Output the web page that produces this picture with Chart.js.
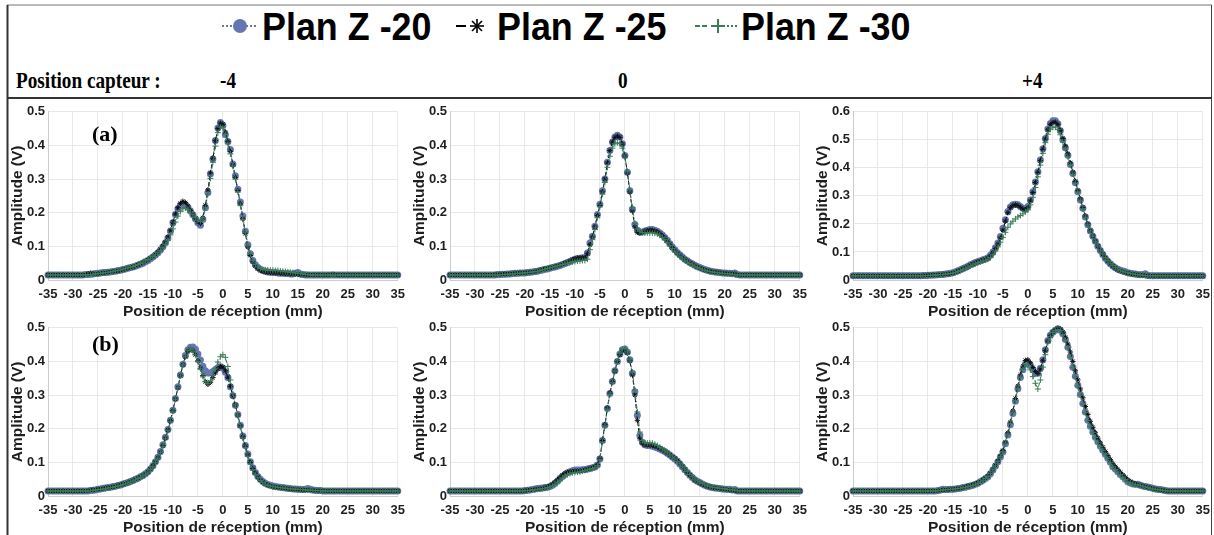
<!DOCTYPE html>
<html><head><meta charset="utf-8">
<script src="https://cdn.jsdelivr.net/npm/chart.js@4.4.0/dist/chart.umd.min.js"></script>
<style>
html,body{margin:0;padding:0;background:#fff;overflow:hidden;width:1214px;height:535px;}
#wrap{position:relative;width:1214px;height:535px;overflow:hidden;}
.leg{position:absolute;top:7px;font:bold 39px "Liberation Sans",Arial,sans-serif;line-height:39px;white-space:nowrap;transform:scaleX(0.92);transform-origin:0 0;color:#000;}
.hdr{position:absolute;top:68px;font:bold 24px "Liberation Serif","Times New Roman",serif;line-height:24px;white-space:nowrap;transform:scaleX(0.8);transform-origin:0 0;color:#000;}
.lab{position:absolute;font:bold 22px "Liberation Serif","Times New Roman",serif;line-height:22px;white-space:nowrap;color:#000;}
canvas{position:absolute;}
svg{position:absolute;left:0;top:0;pointer-events:none;}
</style></head>
<body><div id="wrap">
<svg width="1214" height="535">
  <line x1="7" y1="5" x2="1212" y2="5" stroke="#777" stroke-width="1"/>
  <line x1="7.5" y1="5" x2="7.5" y2="535" stroke="#333" stroke-width="2"/>
  <line x1="1211.5" y1="5" x2="1211.5" y2="535" stroke="#444" stroke-width="1"/>
  <line x1="7" y1="98" x2="1212" y2="98" stroke="#333" stroke-width="2"/>
  <line x1="222" y1="26" x2="258" y2="26" stroke="#6577b3" stroke-width="2" stroke-dasharray="2,2"/>
  <circle cx="240" cy="26" r="7" fill="#6577b3"/>
  <line x1="456" y1="26" x2="466" y2="26" stroke="#000" stroke-width="2"/>
  <g stroke="#000" stroke-width="1.6">
    <line x1="470" y1="26" x2="484" y2="26"/><line x1="477" y1="19" x2="477" y2="33"/>
    <line x1="472" y1="21" x2="482" y2="31"/><line x1="482" y1="21" x2="472" y2="31"/>
  </g>
  <line x1="695" y1="26" x2="709" y2="26" stroke="#3a7d57" stroke-width="2" stroke-dasharray="5,2"/>
  <g stroke="#3a7d57" stroke-width="2"><line x1="711" y1="26" x2="725" y2="26"/><line x1="718" y1="19" x2="718" y2="33"/></g>
  <line x1="727" y1="26" x2="739" y2="26" stroke="#3a7d57" stroke-width="2" stroke-dasharray="2,2"/>
</svg>
<div class="leg" style="left:262px">Plan Z -20</div>
<div class="leg" style="left:497px">Plan Z -25</div>
<div class="leg" style="left:741px">Plan Z -30</div>
<div class="hdr" style="left:16px">Position capteur :</div>
<div class="hdr" style="left:220px">-4</div>
<div class="hdr" style="left:618px">0</div>
<div class="hdr" style="left:1022px">+4</div>
<canvas id="ca" width="404" height="221" style="left:8px;top:101px"></canvas>
<canvas id="cb" width="404" height="221" style="left:410px;top:101px"></canvas>
<canvas id="cc" width="404" height="221" style="left:813px;top:101px"></canvas>
<canvas id="cd" width="404" height="221" style="left:8px;top:317px"></canvas>
<canvas id="ce" width="404" height="221" style="left:410px;top:317px"></canvas>
<canvas id="cf" width="404" height="221" style="left:813px;top:317px"></canvas>
<div class="lab" style="left:92px;top:123px">(a)</div>
<div class="lab" style="left:92px;top:333px">(b)</div>
</div>
<script>
// Position de réception (mm)
const X = [
-35,-34.5,-34,-33.5,-33,-32.5,-32,-31.5,-31,-30.5,
-30,-29.5,-29,-28.5,-28,-27.5,-27,-26.5,-26,-25.5,
-25,-24.5,-24,-23.5,-23,-22.5,-22,-21.5,-21,-20.5,
-20,-19.5,-19,-18.5,-18,-17.5,-17,-16.5,-16,-15.5,
-15,-14.5,-14,-13.5,-13,-12.5,-12,-11.5,-11,-10.5,
-10,-9.5,-9,-8.5,-8,-7.5,-7,-6.5,-6,-5.5,
-5,-4.5,-4,-3.5,-3,-2.5,-2,-1.5,-1,-0.5,
0,0.5,1,1.5,2,2.5,3,3.5,4,4.5,
5,5.5,6,6.5,7,7.5,8,8.5,9,9.5,
10,10.5,11,11.5,12,12.5,13,13.5,14,14.5,
15,15.5,16,16.5,17,17.5,18,18.5,19,19.5,
20,20.5,21,21.5,22,22.5,23,23.5,24,24.5,
25,25.5,26,26.5,27,27.5,28,28.5,29,29.5,
30,30.5,31,31.5,32,32.5,33,33.5,34,34.5,35];

const seriesNames = ['Plan Z -20','Plan Z -25','Plan Z -30'];
const xTicks = {min:-35, max:35, step:5};
const yMaxTop = [0.5, 0.5, 0.6];
const yMaxBottom = [0.5, 0.5, 0.5];

// (a) capteur -4
const a_z20 = [
.015,.015,.015,.015,.015,.015,.015,.015,.015,.015,
.015,.015,.015,.015,.015,.016,.016,.017,.018,.019,
.020,.021,.022,.022,.023,.024,.025,.026,.028,.029,
.031,.033,.035,.037,.039,.041,.044,.047,.050,.054,
.058,.063,.068,.074,.081,.089,.099,.111,.125,.145,
.170,.195,.212,.222,.226,.224,.216,.205,.194,.182,
.170,.163,.180,.215,.260,.315,.360,.415,.452,.468,
.460,.432,.412,.388,.345,.310,.270,.232,.190,.145,
.105,.078,.058,.045,.037,.032,.028,.026,.024,.023,
.022,.022,.021,.020,.020,.019,.019,.018,.018,.020,
.022,.018,.016,.015,.015,.015,.015,.015,.015,.015,
.015,.015,.015,.015,.015,.015,.015,.015,.015,.015,
.015,.015,.015,.015,.015,.015,.015,.015,.015,.015,
.015,.015,.015,.015,.015,.015,.015,.015,.015,.015,.015];
const a_z25 = [
.015,.015,.015,.015,.015,.015,.015,.015,.015,.015,
.015,.015,.015,.015,.015,.016,.018,.020,.019,.018,
.019,.020,.021,.022,.023,.024,.025,.026,.027,.029,
.031,.033,.035,.037,.039,.042,.045,.048,.052,.056,
.060,.065,.070,.076,.083,.091,.101,.113,.128,.148,
.172,.196,.215,.228,.234,.230,.220,.207,.195,.183,
.173,.168,.185,.222,.268,.318,.362,.414,.450,.466,
.463,.440,.412,.382,.342,.305,.266,.226,.182,.138,
.098,.073,.054,.042,.034,.029,.026,.024,.023,.022,
.022,.021,.021,.020,.020,.019,.019,.018,.018,.018,
.017,.016,.016,.015,.015,.015,.015,.015,.015,.015,
.015,.015,.015,.015,.017,.015,.015,.015,.015,.015,
.015,.015,.015,.015,.015,.015,.015,.015,.015,.015,
.015,.015,.015,.015,.015,.015,.015,.015,.015,.015,.015];
const a_z30 = [
.015,.015,.015,.015,.015,.015,.015,.015,.015,.015,
.015,.015,.015,.015,.015,.015,.016,.016,.017,.018,
.019,.020,.021,.022,.023,.024,.025,.027,.028,.030,
.032,.034,.036,.038,.040,.043,.046,.049,.053,.057,
.061,.065,.070,.075,.081,.088,.096,.106,.118,.134,
.152,.172,.190,.204,.212,.214,.210,.202,.194,.185,
.178,.174,.186,.214,.255,.302,.350,.398,.438,.455,
.452,.432,.405,.375,.338,.300,.262,.222,.180,.140,
.102,.078,.058,.046,.039,.034,.031,.030,.030,.029,
.029,.028,.028,.027,.026,.025,.024,.023,.022,.021,
.020,.019,.018,.017,.016,.015,.015,.015,.015,.015,
.015,.015,.015,.015,.015,.015,.015,.015,.015,.015,
.015,.015,.015,.015,.015,.015,.015,.015,.015,.015,
.015,.015,.015,.015,.015,.015,.015,.015,.015,.015,.015];

// (a) capteur 0
const b_z20 = [
.015,.015,.015,.015,.015,.015,.015,.015,.015,.015,
.015,.015,.015,.015,.015,.015,.015,.015,.015,.016,
.016,.017,.017,.018,.018,.019,.020,.020,.021,.021,
.021,.022,.023,.024,.025,.026,.028,.030,.032,.033,
.035,.037,.039,.041,.043,.046,.049,.052,.055,.059,
.062,.064,.065,.066,.066,.080,.110,.130,.160,.195,
.225,.265,.300,.350,.385,.410,.425,.430,.425,.405,
.370,.320,.265,.210,.165,.148,.142,.143,.146,.148,
.150,.150,.148,.145,.140,.134,.126,.118,.108,.098,
.090,.082,.075,.068,.062,.057,.052,.048,.044,.040,
.037,.034,.031,.029,.027,.025,.024,.023,.022,.021,
.021,.020,.020,.019,.021,.016,.015,.015,.015,.015,
.015,.015,.015,.015,.015,.015,.015,.015,.015,.015,
.015,.015,.015,.015,.015,.015,.015,.015,.015,.015,.015];
const b_z25 = [
.015,.015,.015,.015,.015,.015,.015,.015,.015,.015,
.015,.015,.015,.015,.015,.015,.015,.015,.016,.016,
.017,.017,.018,.018,.019,.019,.020,.020,.021,.021,
.022,.022,.023,.024,.025,.027,.029,.031,.033,.034,
.036,.038,.040,.042,.044,.047,.050,.053,.056,.060,
.063,.065,.066,.066,.067,.078,.105,.128,.158,.192,
.222,.262,.300,.348,.385,.410,.424,.428,.424,.404,
.368,.318,.262,.205,.158,.142,.140,.142,.145,.147,
.148,.148,.146,.143,.138,.132,.124,.115,.106,.096,
.088,.080,.073,.067,.061,.056,.051,.047,.043,.039,
.036,.033,.030,.028,.026,.025,.024,.023,.022,.021,
.020,.020,.019,.019,.018,.016,.015,.015,.015,.015,
.015,.015,.015,.015,.015,.015,.015,.015,.015,.015,
.015,.015,.015,.015,.015,.015,.015,.015,.015,.015,.015];
const b_z30 = [
.015,.015,.015,.015,.015,.015,.015,.015,.015,.015,
.015,.015,.015,.015,.015,.015,.015,.015,.015,.015,
.016,.016,.017,.017,.018,.018,.019,.020,.020,.021,
.021,.022,.023,.024,.025,.026,.028,.030,.032,.034,
.036,.038,.040,.042,.044,.046,.048,.050,.052,.054,
.055,.056,.057,.058,.058,.062,.090,.120,.150,.185,
.218,.255,.290,.335,.368,.392,.405,.408,.405,.392,
.365,.322,.268,.215,.168,.152,.145,.141,.140,.140,
.140,.140,.139,.137,.133,.127,.120,.112,.103,.094,
.086,.078,.071,.065,.059,.054,.049,.045,.041,.038,
.035,.032,.029,.027,.025,.024,.023,.022,.021,.020,
.019,.019,.018,.017,.016,.015,.015,.015,.015,.015,
.015,.015,.015,.015,.015,.015,.015,.015,.015,.015,
.015,.015,.015,.015,.015,.015,.015,.015,.015,.015,.015];

// (a) capteur +4
const c_z20 = [
.015,.015,.015,.015,.015,.015,.015,.015,.015,.015,
.015,.015,.015,.015,.015,.015,.015,.015,.015,.015,
.015,.015,.015,.015,.015,.015,.015,.015,.016,.016,
.017,.017,.018,.018,.019,.020,.020,.021,.022,.024,
.026,.029,.033,.037,.041,.045,.049,.054,.058,.062,
.066,.069,.072,.075,.079,.088,.100,.115,.132,.155,
.185,.215,.244,.260,.268,.270,.268,.262,.256,.252,
.262,.285,.315,.350,.386,.428,.468,.505,.539,.558,
.568,.568,.557,.532,.500,.472,.445,.412,.380,.347,
.315,.285,.256,.225,.197,.175,.156,.138,.120,.105,
.091,.078,.067,.058,.050,.044,.038,.035,.032,.029,
.026,.024,.022,.021,.020,.019,.020,.022,.016,.015,
.015,.015,.015,.015,.015,.015,.015,.015,.015,.015,
.015,.015,.015,.015,.015,.015,.015,.015,.015,.015,.015];
const c_z25 = [
.015,.015,.015,.015,.015,.015,.015,.015,.015,.015,
.015,.015,.015,.015,.015,.015,.015,.015,.015,.015,
.015,.015,.015,.015,.015,.015,.015,.015,.016,.016,
.017,.017,.018,.018,.019,.019,.020,.021,.022,.023,
.025,.028,.032,.036,.040,.044,.048,.053,.057,.061,
.065,.068,.071,.074,.078,.086,.097,.112,.128,.150,
.178,.210,.240,.258,.266,.268,.266,.260,.254,.250,
.258,.282,.312,.348,.384,.426,.466,.503,.536,.555,
.562,.563,.555,.534,.505,.478,.450,.418,.385,.352,
.320,.289,.259,.228,.200,.177,.157,.139,.121,.106,
.092,.079,.068,.058,.050,.043,.037,.033,.030,.027,
.025,.023,.021,.020,.019,.018,.017,.016,.016,.015,
.015,.015,.015,.015,.015,.015,.015,.015,.015,.015,
.015,.015,.015,.015,.015,.015,.015,.015,.015,.015,.015];
const c_z30 = [
.015,.015,.015,.015,.015,.015,.015,.015,.015,.015,
.015,.015,.015,.015,.015,.015,.015,.015,.015,.015,
.015,.015,.015,.015,.015,.015,.015,.015,.015,.016,
.016,.017,.017,.018,.018,.019,.020,.021,.022,.023,
.025,.027,.030,.034,.038,.042,.046,.050,.054,.058,
.062,.065,.068,.071,.074,.080,.090,.103,.118,.135,
.152,.170,.188,.200,.210,.218,.225,.230,.236,.243,
.250,.268,.295,.330,.368,.410,.452,.490,.520,.538,
.545,.545,.537,.518,.492,.466,.440,.410,.378,.346,
.314,.284,.254,.224,.197,.175,.156,.138,.121,.106,
.093,.080,.069,.060,.052,.045,.039,.035,.031,.028,
.026,.024,.022,.020,.019,.018,.017,.016,.015,.015,
.015,.015,.015,.015,.015,.015,.015,.015,.015,.015,
.015,.015,.015,.015,.015,.015,.015,.015,.015,.015,.015];

// (b) capteur -4
const d_z20 = [
.015,.015,.015,.015,.015,.015,.015,.015,.015,.015,
.015,.015,.015,.015,.015,.015,.015,.016,.017,.018,
.020,.021,.023,.024,.025,.026,.028,.029,.031,.033,
.036,.038,.040,.043,.046,.050,.053,.057,.061,.066,
.072,.080,.090,.102,.115,.132,.152,.175,.198,.225,
.255,.290,.325,.360,.392,.418,.435,.442,.443,.436,
.422,.404,.386,.372,.366,.366,.370,.376,.381,.384,
.380,.368,.352,.325,.298,.270,.242,.210,.178,.150,
.125,.102,.084,.070,.058,.050,.043,.038,.034,.032,
.030,.028,.027,.026,.025,.024,.023,.022,.021,.021,
.020,.020,.019,.020,.022,.020,.018,.017,.016,.016,
.015,.015,.015,.015,.015,.015,.015,.015,.015,.015,
.015,.015,.015,.015,.015,.015,.015,.015,.015,.015,
.015,.015,.015,.015,.015,.015,.015,.015,.015,.015,.015];
const d_z25 = [
.015,.015,.015,.015,.015,.015,.015,.015,.015,.015,
.015,.015,.015,.015,.015,.015,.016,.017,.018,.019,
.020,.021,.022,.024,.025,.026,.027,.029,.031,.033,
.035,.037,.040,.043,.046,.049,.053,.057,.061,.066,
.072,.080,.090,.101,.114,.130,.150,.172,.196,.224,
.254,.288,.322,.358,.390,.414,.430,.436,.432,.420,
.402,.380,.358,.340,.332,.338,.352,.366,.378,.385,
.383,.372,.353,.326,.298,.270,.240,.208,.176,.148,
.122,.100,.082,.068,.056,.047,.041,.036,.033,.030,
.028,.027,.026,.025,.024,.023,.022,.021,.020,.020,
.019,.019,.018,.018,.018,.017,.017,.016,.016,.016,
.016,.015,.015,.015,.015,.015,.015,.015,.015,.015,
.015,.015,.015,.015,.015,.015,.015,.015,.015,.015,
.015,.015,.015,.015,.015,.015,.015,.015,.015,.015,.015];
const d_z30 = [
.015,.015,.015,.015,.015,.015,.015,.015,.015,.015,
.015,.015,.015,.015,.015,.015,.015,.016,.017,.018,
.019,.020,.021,.022,.024,.025,.026,.028,.030,.032,
.034,.036,.039,.042,.045,.048,.052,.056,.060,.065,
.071,.079,.088,.100,.113,.129,.148,.170,.194,.222,
.252,.287,.322,.357,.390,.415,.432,.438,.434,.420,
.400,.378,.356,.340,.334,.342,.358,.378,.398,.414,
.420,.412,.385,.345,.305,.270,.238,.205,.172,.144,
.118,.096,.078,.064,.054,.046,.040,.035,.032,.030,
.028,.027,.026,.025,.024,.023,.022,.021,.021,.020,
.020,.019,.019,.018,.018,.017,.017,.016,.016,.016,
.015,.015,.015,.015,.015,.015,.015,.015,.015,.015,
.015,.015,.015,.015,.015,.015,.015,.015,.015,.015,
.015,.015,.015,.015,.015,.015,.015,.015,.015,.015,.015];

// (b) capteur 0
const e_z20 = [
.015,.015,.015,.015,.015,.015,.015,.015,.015,.015,
.015,.015,.015,.015,.015,.015,.015,.015,.015,.015,
.015,.015,.015,.015,.015,.015,.015,.015,.015,.015,
.016,.017,.018,.019,.021,.022,.023,.024,.025,.026,
.028,.032,.037,.044,.051,.058,.064,.069,.072,.075,
.077,.077,.077,.078,.079,.080,.082,.084,.086,.092,
.110,.165,.210,.260,.305,.340,.372,.400,.422,.435,
.437,.428,.405,.365,.310,.240,.180,.160,.152,.150,
.150,.148,.146,.143,.140,.136,.132,.127,.122,.116,
.110,.103,.095,.087,.078,.070,.062,.055,.048,.044,
.040,.036,.032,.029,.027,.025,.024,.023,.022,.021,
.020,.020,.020,.018,.019,.015,.015,.015,.015,.015,
.015,.015,.015,.015,.015,.015,.015,.015,.015,.015,
.015,.015,.015,.015,.015,.015,.015,.015,.015,.015,.015];
const e_z25 = [
.015,.015,.015,.015,.015,.015,.015,.015,.015,.015,
.015,.015,.015,.015,.015,.015,.015,.015,.015,.015,
.015,.015,.015,.015,.015,.015,.015,.015,.015,.015,
.016,.017,.018,.019,.020,.021,.022,.023,.025,.027,
.030,.035,.041,.048,.055,.062,.067,.070,.072,.073,
.074,.074,.075,.076,.078,.080,.082,.084,.087,.093,
.112,.165,.212,.262,.306,.340,.372,.400,.420,.432,
.434,.425,.402,.360,.300,.225,.170,.157,.152,.152,
.151,.150,.148,.145,.141,.137,.132,.127,.122,.116,
.112,.105,.097,.088,.079,.070,.062,.055,.048,.043,
.039,.035,.032,.029,.027,.025,.024,.023,.022,.021,
.020,.019,.018,.017,.016,.015,.015,.015,.015,.015,
.015,.015,.015,.015,.015,.015,.015,.015,.015,.015,
.015,.015,.015,.015,.015,.015,.015,.015,.015,.015,.015];
const e_z30 = [
.015,.015,.015,.015,.015,.015,.015,.015,.015,.015,
.015,.015,.015,.015,.015,.015,.015,.015,.015,.015,
.015,.015,.015,.015,.015,.015,.015,.015,.015,.015,
.016,.016,.017,.018,.019,.020,.021,.022,.023,.025,
.027,.030,.035,.041,.047,.054,.060,.064,.067,.069,
.070,.071,.072,.074,.076,.078,.080,.082,.085,.090,
.108,.160,.208,.258,.302,.338,.372,.402,.425,.437,
.438,.428,.405,.368,.315,.250,.190,.165,.158,.157,
.158,.157,.154,.150,.145,.140,.134,.128,.122,.116,
.110,.103,.096,.088,.080,.072,.064,.057,.050,.045,
.041,.037,.033,.030,.028,.026,.025,.024,.023,.022,
.021,.020,.019,.018,.017,.016,.015,.015,.015,.015,
.015,.015,.015,.015,.015,.015,.015,.015,.015,.015,
.015,.015,.015,.015,.015,.015,.015,.015,.015,.015,.015];

// (b) capteur +4
const f_z20 = [
.015,.015,.015,.015,.015,.015,.015,.015,.015,.015,
.015,.015,.015,.015,.015,.015,.015,.015,.015,.015,
.015,.015,.015,.015,.015,.015,.015,.015,.015,.015,
.015,.015,.015,.015,.016,.018,.020,.019,.019,.020,
.020,.021,.022,.023,.025,.026,.028,.030,.032,.035,
.038,.042,.047,.052,.057,.066,.077,.089,.102,.116,
.131,.155,.181,.212,.245,.282,.319,.352,.375,.392,
.395,.388,.376,.366,.365,.380,.405,.435,.462,.478,
.487,.493,.497,.493,.482,.465,.442,.415,.383,.356,
.329,.302,.275,.250,.225,.207,.190,.175,.161,.148,
.136,.124,.112,.100,.087,.080,.072,.064,.057,.050,
.042,.039,.036,.035,.035,.032,.030,.028,.027,.025,
.023,.021,.020,.019,.018,.016,.015,.015,.015,.015,
.015,.015,.015,.015,.015,.015,.015,.015,.015,.015,.015];
const f_z25 = [
.015,.015,.015,.015,.015,.015,.015,.015,.015,.015,
.015,.015,.015,.015,.015,.015,.015,.015,.015,.015,
.015,.015,.015,.015,.015,.015,.015,.015,.015,.015,
.015,.015,.015,.015,.016,.017,.018,.019,.019,.020,
.020,.021,.022,.023,.025,.027,.029,.031,.033,.036,
.039,.043,.048,.053,.059,.068,.079,.091,.104,.119,
.135,.160,.188,.220,.253,.290,.327,.360,.386,.403,
.405,.396,.382,.370,.364,.378,.402,.432,.460,.477,
.487,.494,.498,.496,.487,.472,.452,.428,.400,.372,
.345,.318,.292,.266,.242,.222,.204,.188,.172,.158,
.145,.132,.120,.108,.096,.087,.078,.070,.062,.055,
.048,.043,.039,.036,.034,.032,.030,.028,.026,.024,
.022,.021,.019,.018,.017,.016,.015,.015,.015,.015,
.015,.015,.015,.015,.015,.015,.015,.015,.015,.015,.015];
const f_z30 = [
.015,.015,.015,.015,.015,.015,.015,.015,.015,.015,
.015,.015,.015,.015,.015,.015,.015,.015,.015,.015,
.015,.015,.015,.015,.015,.015,.015,.015,.015,.015,
.015,.015,.015,.015,.016,.017,.018,.019,.019,.020,
.020,.021,.022,.023,.025,.026,.028,.030,.032,.035,
.038,.042,.047,.052,.058,.067,.078,.090,.103,.117,
.132,.157,.184,.215,.248,.284,.320,.352,.376,.390,
.388,.375,.355,.335,.318,.345,.383,.420,.455,.475,
.486,.492,.495,.492,.480,.463,.440,.413,.382,.354,
.327,.300,.273,.248,.224,.206,.189,.174,.160,.147,
.135,.123,.111,.099,.087,.079,.071,.063,.056,.049,
.042,.039,.036,.034,.033,.031,.029,.027,.025,.023,
.021,.020,.019,.018,.017,.016,.015,.015,.015,.015,
.015,.015,.015,.015,.015,.015,.015,.015,.015,.015,.015];

const FONT = '"Liberation Sans", Arial, Helvetica, sans-serif';
const TXT = '#1e1e1e';
const pts = ys => X.map((x, i) => ({x: x, y: ys[i]}));

function panel(id, ymax, s1, s2, s3) {
  new Chart(document.getElementById(id), {
    type: 'line',
    data: {datasets: [
      {label: seriesNames[0], data: pts(s1), borderColor: '#6577b3', backgroundColor: '#6577b3',
       borderWidth: 1, borderDash: [1.5, 2], pointStyle: 'circle', pointRadius: 3.5,
       pointBorderWidth: 0, pointBackgroundColor: '#6577b3', order: 3, clip: false},
      {label: seriesNames[1], data: pts(s2), borderColor: '#111', backgroundColor: '#111',
       borderWidth: 1, borderDash: [4, 2], pointStyle: 'star', pointRadius: 2.7,
       pointBorderWidth: 1, pointBorderColor: '#111', order: 2, clip: false},
      {label: seriesNames[2], data: pts(s3), borderColor: '#3a7d57', backgroundColor: '#3a7d57',
       borderWidth: 1, borderDash: [4, 2, 1, 2], pointStyle: 'cross', pointRadius: 3,
       pointBorderWidth: 1, pointBorderColor: '#3a7d57', order: 1, clip: false}
    ]},
    options: {
      responsive: false, animation: false, events: [],
      layout: {padding: {left: 0, right: 14, top: 10, bottom: 0}},
      plugins: {legend: {display: false}, tooltip: {enabled: false}},
      elements: {line: {tension: 0}},
      scales: {
        x: {type: 'linear', min: xTicks.min, max: xTicks.max,
            ticks: {stepSize: xTicks.step, autoSkip: false, maxRotation: 0, minRotation: 0, padding: 7,
                    color: TXT, font: {family: FONT, size: 13, weight: 'bold'}},
            grid: {color: '#e8e8e8', drawTicks: false, lineWidth: 1},
            border: {color: '#c9ccd4', width: 1},
            title: {display: true, text: 'Position de réception (mm)', color: TXT,
                    font: {family: FONT, size: 15.5, weight: 'bold'}, padding: {top: 0, bottom: 1}},
            afterFit: s => { s.height = 42; }},
        y: {type: 'linear', min: 0, max: ymax,
            ticks: {stepSize: 0.1, padding: 3, color: TXT, font: {family: FONT, size: 13, weight: 'bold'}},
            grid: {color: '#e8e8e8', drawTicks: false, lineWidth: 1},
            border: {color: '#c9ccd4', width: 1},
            title: {display: true, text: 'Amplitude (V)', color: TXT,
                    font: {family: FONT, size: 15.5, weight: 'bold'}, padding: {top: 0, bottom: 0}},
            afterFit: s => { s.width = 40; }}
      }
    }
  });
}

panel('ca', yMaxTop[0], a_z20, a_z25, a_z30);
panel('cb', yMaxTop[1], b_z20, b_z25, b_z30);
panel('cc', yMaxTop[2], c_z20, c_z25, c_z30);
panel('cd', yMaxBottom[0], d_z20, d_z25, d_z30);
panel('ce', yMaxBottom[1], e_z20, e_z25, e_z30);
panel('cf', yMaxBottom[2], f_z20, f_z25, f_z30);
</script>
</body></html>
